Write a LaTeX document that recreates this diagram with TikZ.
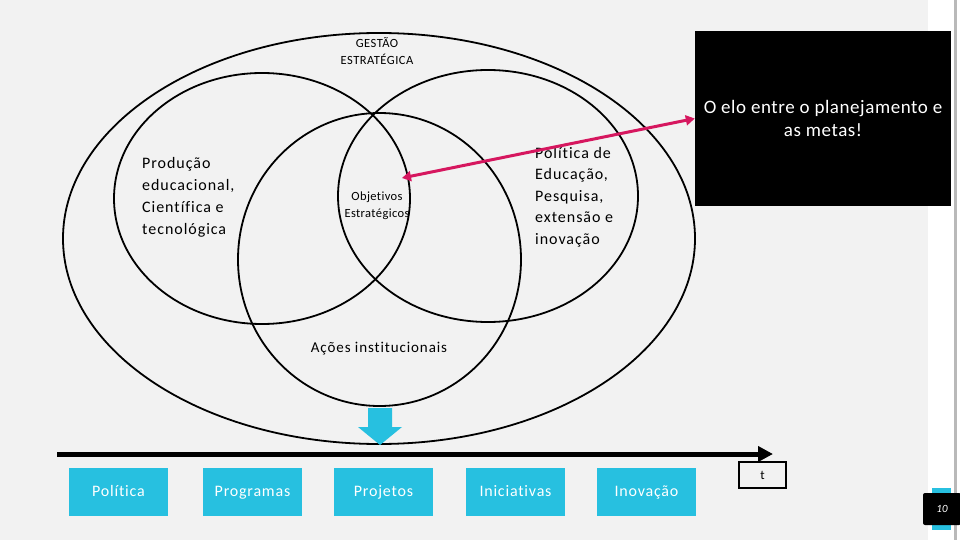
\documentclass[tikz,border=0pt]{standalone}
\usepackage{fontspec}
\setmainfont{Carlito}[Ligatures=NoCommon]
\usetikzlibrary{shapes.geometric,arrows.meta}
\definecolor{bg}{HTML}{F2F2F2}
\definecolor{cyanbox}{HTML}{27C0E0}
\definecolor{pinkline}{HTML}{D6175F}
\tikzset{
  venn/.style={draw=black, line width=1.8pt, ellipse, inner sep=0pt, fill=none},
  lbl/.style={inner sep=0pt, text=black},
  cyanstep/.style={fill=cyanbox, minimum width=99pt, minimum height=48pt, inner sep=0pt,
    text=white, text height=11pt, text depth=3pt,
    font=\fontsize{16}{18}\selectfont\addfontfeatures{LetterSpace=5}},
  timeline/.style={line width=5pt, -{Triangle[length=15pt,width=15pt]}},
  linkarrow/.style={draw=pinkline, line width=3pt, {Triangle[length=9pt,width=10pt]}-{Triangle[length=9pt,width=10pt]}},
}
\begin{document}
\begin{tikzpicture}[x=1pt,y=-1pt]
\useasboundingbox (0,0) rectangle (960,540);
\fill[bg] (0,0) rectangle (960,540);
\fill[white] (928,0) rectangle (960,540);
\fill[gray!55] (954,0) rectangle (957,540);

% Venn shapes
\node[venn, minimum width=632pt, minimum height=411pt] (outer) at (379,238.5) {};
\node[venn, minimum width=296pt, minimum height=251pt] (leftc) at (262,198.5) {};
\node[venn, minimum width=300pt, minimum height=252pt] (rightc) at (488,196) {};
\node[venn, minimum width=283pt, minimum height=293pt] (midc) at (379.5,259.5) {};

% Texts
\node[lbl, align=center, font=\fontsize{12.5}{17}\selectfont\addfontfeatures{LetterSpace=4}] (gestao) at (377,51) {GESTÃO\\ESTRATÉGICA};
\node[lbl, align=left, anchor=west, font=\fontsize{16}{22}\selectfont\addfontfeatures{LetterSpace=6}] (prod) at (142,197)
  {Produção\\educacional,\\Científica e\\tecnológica};
\node[lbl, align=center, font=\fontsize{12.5}{17}\selectfont\addfontfeatures{LetterSpace=3}] (obj) at (377,206) {Objetivos\\Estratégicos};
\node[lbl, align=left, anchor=west, font=\fontsize{16}{21.5}\selectfont\addfontfeatures{LetterSpace=6}] (pol) at (535,197)
  {Política de\\Educação,\\Pesquisa,\\extensão e\\inovação};
\node[lbl, font=\fontsize{15}{17}\selectfont\addfontfeatures{LetterSpace=6}] (acoes) at (379,349) {Ações institucionais};

% Black note box
\node[fill=black, minimum width=256pt, minimum height=175pt, inner sep=0pt, text=white,
  align=center, font=\fontsize{19}{23}\selectfont\addfontfeatures{LetterSpace=3}] (note) at (823,118.5)
  {O elo entre o planejamento e\\as metas!};

% Pink double arrow
\coordinate (objtip) at (402,178);
\draw[linkarrow] (objtip) -- (note.west);

% Blue down arrow
\fill[cyanbox] (368,408) -- (392,408) -- (392,427) -- (402,427) -- (380,445) -- (358,427) -- (368,427) -- cycle;

% Timeline
\coordinate (tl0) at (57,454);
\coordinate (tl1) at (773,454);
\draw[timeline] (tl0) -- (tl1);

% Steps
\node[cyanstep] (s1) at (118.5,492) {Política};
\node[cyanstep] (s2) at (252.5,492) {Programas};
\node[cyanstep] (s3) at (383.5,492) {Projetos};
\node[cyanstep] (s4) at (515.5,492) {Iniciativas};
\node[cyanstep] (s5) at (646.5,492) {Inovação};

% t label
\node[draw=black, line width=1.3pt, minimum width=47pt, minimum height=26pt, inner sep=0pt,
  font=\fontsize{13}{15}\selectfont] (tlab) at (762.5,475) {t};

% Slide number
\fill[cyanbox] (932,488) rectangle (951,530);
\node[fill=black, rounded corners=2pt, minimum width=38pt, minimum height=32pt, inner sep=0pt,
  text=white, font=\fontsize{11}{13}\selectfont\itshape] (pagenum) at (942,509) {10};
\end{tikzpicture}
\end{document}
